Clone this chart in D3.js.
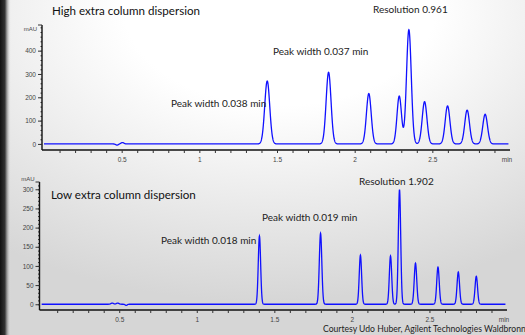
<!DOCTYPE html>
<html>
<head>
<meta charset="utf-8">
<script src="https://cdn.jsdelivr.net/npm/d3@7"></script>
<style>
  body { margin: 0; overflow: hidden; }
  svg { display: block; font-family: Lato, "Open Sans", sans-serif; }
  .tick text { fill: #444; font-size: 6.5px; }
  .note { fill: #222; font-size: 10px; }
  .title { fill: #111; font-size: 11.6px; }
  .credit { fill: #222; font-size: 8.6px; }
</style>
</head>
<body>
<svg width="525" height="335"></svg>
<script>
// Peak tables: retention time (min), height (mAU), half-height width (min)
var highTimes   = [0.47, 0.505, 1.437, 1.832, 2.091, 2.287, 2.349, 2.450, 2.598, 2.724, 2.840];
var highHeights = [-5,   6,     270,   307,   216,   205,   490,   181,   163,   145,   127];
var highWidths  = [0.02, 0.022, 0.038, 0.037, 0.036, 0.034, 0.036, 0.036, 0.036, 0.036, 0.036];

var lowTimes   = [0.455, 0.49, 0.545, 1.404, 1.798, 2.055, 2.249, 2.307, 2.410, 2.555, 2.686, 2.802];
var lowHeights = [3,     3,    -3,    178,   185,   128,   126,   299,   107,   97,    84,    73];
var lowWidths  = [0.02,  0.02, 0.015, 0.018, 0.019, 0.018, 0.018, 0.018, 0.019, 0.019, 0.019, 0.019];

// Axis ticks
var xMajor = [0.5, 1, 1.5, 2, 2.5];
var highYTicks = [0, 100, 200, 300, 400];
var lowYTicks = [0, 50, 100, 150, 200, 250, 300];

var svg = d3.select("svg");

// background: soft radial gradient + dark strip on the left
var defs = svg.append("defs");
var rg = defs.append("radialGradient").attr("id", "bg")
  .attr("cx", 0.5).attr("cy", 0.05).attr("r", 0.85)
  .attr("fx", 0.55).attr("fy", 0.0);
rg.append("stop").attr("offset", "0.35").attr("stop-color", "#ffffff");
rg.append("stop").attr("offset", "1").attr("stop-color", "#d6d6d6");
var lg = defs.append("linearGradient").attr("id", "strip");
lg.append("stop").attr("offset", "0").attr("stop-color", "#111");
lg.append("stop").attr("offset", "0.45").attr("stop-color", "#333");
lg.append("stop").attr("offset", "1").attr("stop-color", "#eee").attr("stop-opacity", 0);

svg.append("rect").attr("width", 525).attr("height", 335).attr("fill", "url(#bg)");
svg.append("rect").attr("width", 11).attr("height", 335).attr("fill", "url(#strip)");

// sum of gaussian peaks sampled along time
function trace(times, heights, widths, step) {
  var pts = [];
  for (var t = 0; t <= 2.99; t += step) {
    var v = 0;
    for (var i = 0; i < times.length; i++) {
      var s = widths[i] / 2.355;
      v += heights[i] * Math.exp(-Math.pow(t - times[i], 2) / (2 * s * s));
    }
    pts.push([t, v]);
  }
  return pts;
}

function panel(cfg) {
  var x = d3.scaleLinear().domain(cfg.xDomain).range(cfg.xRange);
  var y = d3.scaleLinear().domain(cfg.yDomain).range(cfg.yRange);
  var g = svg.append("g");

  // x axis: minor ticks every 0.1, labels on the halves
  var xAxis = d3.axisBottom(x)
    .tickValues(d3.range(1, 30).map(function(d) { return d / 10; }))
    .tickSize(3)
    .tickFormat(function(d) {
      var m = xMajor.find(function(v) { return Math.abs(v - d) < 1e-6; });
      return m === undefined ? "" : d3.format("")(m);
    });
  var gx = g.append("g")
    .attr("transform", "translate(0," + cfg.yRange[0] + ")")
    .call(xAxis);
  gx.select(".domain").attr("d", "M" + cfg.xRange[0] + ",0H" + cfg.xRange[1]);
  gx.selectAll(".tick text").attr("dy", "0.9em");
  gx.selectAll("line").attr("stroke", "#333");
  gx.append("text").attr("x", cfg.xRange[1] - 3).attr("y", 11.5)
    .attr("text-anchor", "middle").attr("fill", "#444")
    .style("font-size", "6.5px").text("min");

  // y axis: minor ticks, labelled majors
  var minor = d3.range(cfg.yTicks[0], cfg.yDomain[1], cfg.yMinor);
  g.append("g")
    .attr("transform", "translate(" + cfg.xRange[0] + ",0)")
    .call(d3.axisLeft(y).tickValues(minor).tickSize(1.5).tickFormat(""))
    .call(function(a) { a.select(".domain").remove(); a.selectAll("line").attr("stroke", "#333"); });
  var gy = g.append("g")
    .attr("transform", "translate(" + cfg.xRange[0] + ",0)")
    .call(d3.axisLeft(y).tickValues(cfg.yTicks).tickSize(4).tickPadding(2));
  gy.select(".domain").attr("d", "M0," + cfg.yRange[0] + "V" + cfg.yRange[1]);
  gy.selectAll("line").attr("stroke", "#333");
  gy.append("line").attr("x1", -4).attr("x2", 0)
    .attr("y1", cfg.yRange[1]).attr("y2", cfg.yRange[1]).attr("stroke", "#333");
  gy.append("text").attr("x", -5).attr("y", cfg.unitY)
    .attr("text-anchor", "end").attr("fill", "#444")
    .style("font-size", "6px").text("mAU");
  g.selectAll(".domain").attr("stroke", "#111").attr("stroke-width", 1.4);

  var line = d3.line()
    .x(function(d) { return x(d[0]); })
    .y(function(d) { return y(d[1]); });
  g.append("path")
    .datum(trace(cfg.times, cfg.heights, cfg.widths, 0.001))
    .attr("fill", "none")
    .attr("stroke", "#1010ff")
    .attr("stroke-width", 1.3)
    .attr("d", line);

  cfg.notes.forEach(function(n) {
    g.append("text").attr("class", n[3] || "note")
      .attr("x", n[0]).attr("y", n[1]).text(n[2]);
  });
}

panel({
  xDomain: [-0.013, 3.0], xRange: [42, 510],
  yDomain: [-26, 510], yRange: [150, 25],
  yTicks: highYTicks, yMinor: 20, unitY: 31,
  times: highTimes, heights: highHeights, widths: highWidths,
  notes: [
    [52, 15, "High extra column dispersion", "title"],
    [373, 13, "Resolution 0.961"],
    [273, 55, "Peak width 0.037 min"],
    [171, 106.5, "Peak width 0.038 min"]
  ]
});

panel({
  xDomain: [-0.014, 3.0], xRange: [39.5, 507],
  yDomain: [-15, 319], yRange: [310, 182],
  yTicks: lowYTicks, yMinor: 10, unitY: 181,
  times: lowTimes, heights: lowHeights, widths: lowWidths,
  notes: [
    [51, 199, "Low extra column dispersion", "title"],
    [359, 185, "Resolution 1.902"],
    [262, 220.5, "Peak width 0.019 min"],
    [161, 244, "Peak width 0.018 min"],
    [323, 331.5, "Courtesy Udo Huber, Agilent Technologies  Waldbronn", "credit"]
  ]
});
</script>
</body>
</html>
